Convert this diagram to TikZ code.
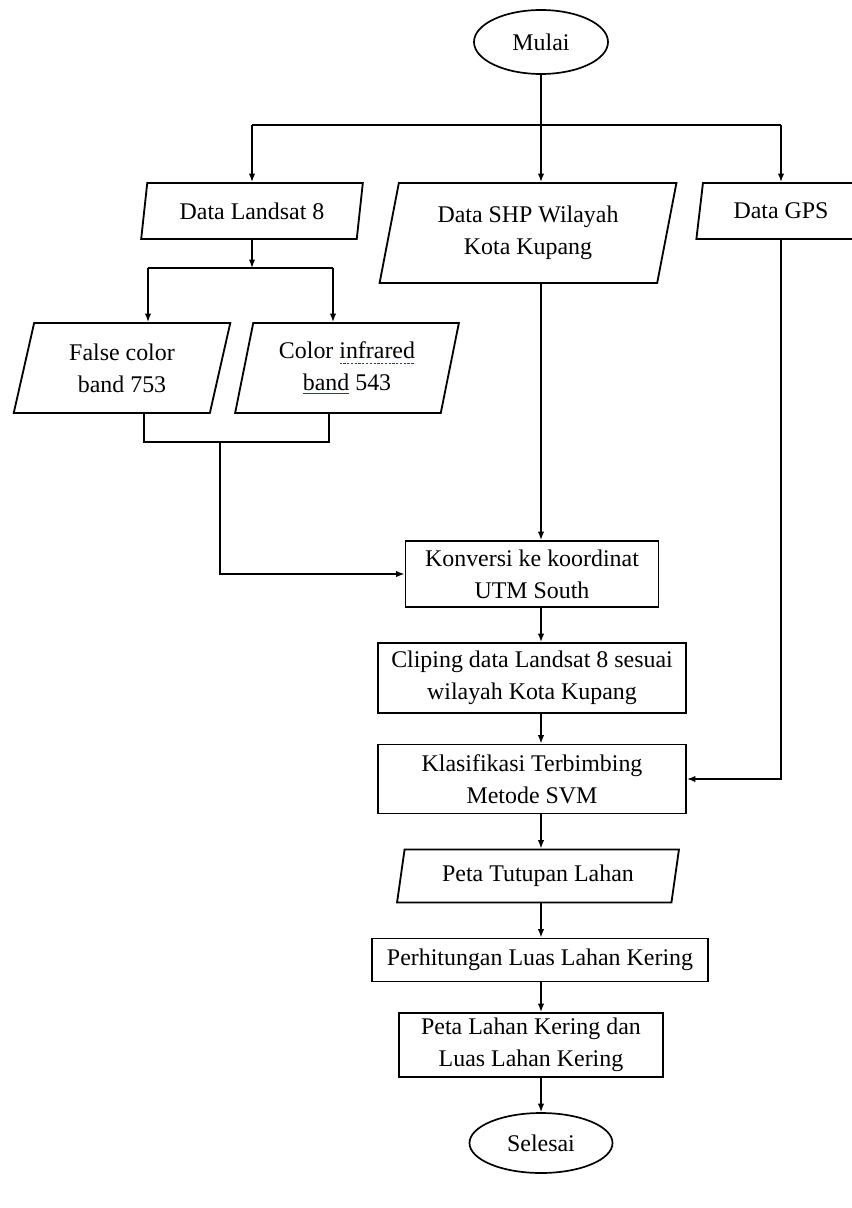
\documentclass[tikz,border=0pt]{standalone}
\usepackage{fontspec}
\setmainfont{Liberation Serif}
\usepackage{tikz}
\usetikzlibrary{shapes.geometric}
\usetikzlibrary{arrows.meta}
\definecolor{spellblue}{RGB}{45,45,190}
\newcommand{\wavyword}[1]{\setbox0\hbox{#1}\rlap{\textcolor{spellblue}{\lower4pt\hbox to \wd0{\xleaders\hbox{\rule{1.6pt}{0.9pt}\kern1pt}\hfill}}}\box0\relax}
\newcommand{\lineword}[1]{\setbox0\hbox{#1}\rlap{\textcolor{spellblue}{\rule[-2.5pt]{\wd0}{0.7pt}}}\box0\relax}

\begin{document}
\begin{tikzpicture}[
            x=0.025cm, y=-0.025cm,
            >={Latex[length=6pt,width=4.5pt]},
            every node/.style={font=\fontsize{17}{23}\selectfont, align=center, inner sep=0pt},
            term/.style={ellipse, draw, line width=1.2pt},
            io/.style={trapezium, trapezium left angle=76, trapezium right angle=104,
                       trapezium stretches=true, draw, line width=1.3pt},
            proc/.style={rectangle, draw, line width=1.3pt},
            flow/.style={line width=1pt},
            ]
            \def\px{0.025cm}
            \useasboundingbox (0,0) rectangle (852,1208);

            \node[term, minimum width=134*\px, minimum height=64*\px] (mulai) at (541,42) {Mulai};
            \coordinate (split) at (541,125);
            \node[io, minimum width=222*\px, minimum height=56*\px] (lnd) at (252,211) {Data Landsat 8};
            \node[io, minimum width=297*\px, minimum height=100*\px] (shp) at (528,233) {Data SHP Wilayah\\Kota Kupang};
            \node[io, minimum width=170*\px, minimum height=56*\px] (gps) at (781,211) {Data GPS};
            \node[io, minimum width=217*\px, minimum height=90*\px] (fc) at (122,368) {False color\\band 753};
            \node[io, minimum width=224*\px, minimum height=90*\px] (ir) at (347,368) {Color \wavyword{infrared}\\\lineword{band} 543};
            \coordinate (bl) at (148,268);
            \coordinate (br) at (333,268);
            \coordinate (jl) at (144,442);
            \coordinate (jr) at (329,442);
            \coordinate (jm) at (220,442);
            \node[proc, minimum width=253*\px, minimum height=66*\px] (konv) at (532,574) {Konversi ke koordinat\\UTM South};
            \node[proc, minimum width=308*\px, minimum height=70*\px] (clip) at (532,678) {Cliping data Landsat 8 sesuai\\wilayah Kota Kupang};
            \node[proc, minimum width=308*\px, minimum height=69*\px] (klas) at (532,779) {Klasifikasi Terbimbing\\Metode SVM};
            \node[io, minimum width=282*\px, minimum height=53*\px] (tutup) at (538,876) {Peta Tutupan Lahan};
            \node[proc, minimum width=336*\px, minimum height=43*\px] (hitung) at (540,960) {Perhitungan Luas Lahan Kering};
            \node[proc, minimum width=264*\px, minimum height=64*\px] (kering) at (531,1045) {Peta Lahan Kering dan\\Luas Lahan Kering};
            \node[term, minimum width=143*\px, minimum height=60*\px] (selesai) at (541,1143) {Selesai};

            \draw[flow] (mulai) -- (split);
            \draw[flow] (lnd.north |- split) -- (gps.north |- split);
            \draw[flow,->] (split) -- (shp.north -| split);
            \draw[flow,->] (lnd.north |- split) -- (lnd.north);
            \draw[flow,->] (gps.north |- split) -- (gps.north);
            \draw[flow,->] (lnd.south) -- (lnd.south |- bl);
            \draw[flow] (bl) -- (br);
            \draw[flow,->] (bl) -- (bl |- fc.north);
            \draw[flow,->] (br) -- (br |- ir.north);
            \draw[flow] (jl |- fc.south) -- (jl) -- (jr) -- (jr |- ir.south);
            \draw[flow,->] (jm) |- (konv.west);
            \draw[flow,->] (shp.south -| split) -- (konv.north -| split);
            \draw[flow,->] (konv.south -| split) -- (clip.north -| split);
            \draw[flow,->] (clip.south -| split) -- (klas.north -| split);
            \draw[flow,->] (gps.south) |- (klas.east);
            \draw[flow,->] (klas.south -| split) -- (tutup.north -| split);
            \draw[flow,->] (tutup.south -| split) -- (hitung.north -| split);
            \draw[flow,->] (hitung.south -| split) -- (kering.north -| split);
            \draw[flow,->] (kering.south -| split) -- (selesai.north -| split);
        \end{tikzpicture}
\end{document}
